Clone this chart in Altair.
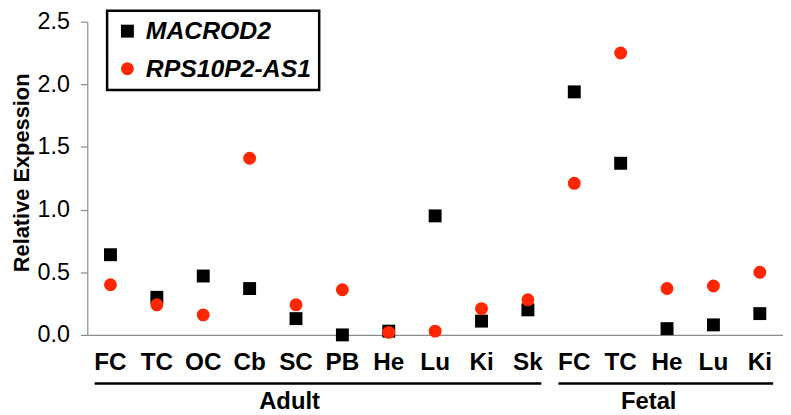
import altair as alt
import pandas as pd

# ---- data ----
keys = ["A_FC", "A_TC", "A_OC", "A_Cb", "A_SC", "A_PB", "A_He", "A_Lu", "A_Ki", "A_Sk",
        "F_FC", "F_TC", "F_He", "F_Lu", "F_Ki"]
tissues = ["FC", "TC", "OC", "Cb", "SC", "PB", "He", "Lu", "Ki", "Sk",
           "FC", "TC", "He", "Lu", "Ki"]
genes = ["MACROD2", "RPS10P2-AS1"]
macrod2 = [0.64, 0.30, 0.47, 0.37, 0.13, 0.00, 0.03, 0.95, 0.11, 0.20,
           1.94, 1.37, 0.05, 0.08, 0.17]
rps10p2 = [0.40, 0.24, 0.16, 1.41, 0.24, 0.36, 0.02, 0.03, 0.21, 0.28,
           1.21, 2.25, 0.37, 0.39, 0.50]
group_names = ["Adult", "Fetal"]
group_first = ["A_FC", "F_FC"]
group_last = ["A_Sk", "F_Ki"]
group_label_anchor = ["A_SC", "F_He"]
y_ticks = [0.0, 0.5, 1.0, 1.5, 2.0, 2.5]

FONT = "Liberation Sans"
GRAY = "#8c8c8c"
RED = "#FF2600"

rows = []
for k, t, v in zip(keys, tissues, macrod2):
    rows.append({"key": k, "tissue": t, "gene": genes[0], "value": v})
for k, t, v in zip(keys, tissues, rps10p2):
    rows.append({"key": k, "tissue": t, "gene": genes[1], "value": v})
df = pd.DataFrame(rows)

groups = pd.DataFrame({"name": group_names, "first": group_first,
                       "last": group_last, "anchor": group_label_anchor})

xscale = alt.Scale(domain=keys)
xaxis = alt.Axis(title=None, labelExpr="substring(datum.value, 2)", labelAngle=0,
                 labelFontSize=24.5, labelFontWeight="bold", labelColor="black",
                 labelFont=FONT, ticks=False, tickSize=0, labelPadding=16,
                 domainColor=GRAY, domainWidth=1.2, grid=False)

points = alt.Chart(df).mark_point(filled=True, size=170, opacity=1, strokeWidth=0).encode(
    x=alt.X("key:N", scale=xscale, axis=xaxis),
    y=alt.Y("value:Q", scale=alt.Scale(domain=[0, 2.5], nice=False, zero=True),
            axis=alt.Axis(values=y_ticks, format=".1f", title="Relative Expession",
                          grid=False, domainColor=GRAY, domainWidth=1.2,
                          tickColor=GRAY, tickSize=7, tickWidth=1.2,
                          labelFontSize=23.5, labelFont=FONT, labelColor="black",
                          labelPadding=11,
                          titleFontSize=22, titleFontWeight="bold", titleFont=FONT,
                          titleColor="black", titleAngle=270, titleX=-76, titleY=152,
                          titleBaseline="top", titleAlign="center")),
    color=alt.Color("gene:N", scale=alt.Scale(domain=genes, range=["black", RED]),
                    legend=alt.Legend(title=None, orient="none", legendX=20, legendY=-11,
                                      strokeColor="black",
                                      fillColor="white", padding=8, rowPadding=12,
                                      labelFontSize=25, labelFontWeight="bold",
                                      labelFontStyle="italic", labelFont=FONT,
                                      labelColor="black", labelOffset=6,
                                      symbolSize=170, symbolStrokeWidth=0,
                                      labelLimit=400)),
    shape=alt.Shape("gene:N", scale=alt.Scale(domain=genes, range=["square", "circle"])),
    order=alt.Order("gene:N"),
)

lines = alt.Chart(groups).mark_rule(color="black", strokeWidth=2.5,
                                    xOffset=-16, x2Offset=13.5).encode(
    x=alt.X("first:N", scale=xscale, axis=xaxis),
    x2="last:N",
    y=alt.value(365),
)

label_adult = alt.Chart(groups).transform_filter(alt.datum.name == "Adult").mark_text(
    fontSize=24, fontWeight="bold", font=FONT, color="black", baseline="alphabetic",
    align="center", dx=-6.5).encode(
    x=alt.X("anchor:N", scale=xscale, axis=xaxis),
    y=alt.value(391),
    text="name:N",
)
label_fetal = alt.Chart(groups).transform_filter(alt.datum.name == "Fetal").mark_text(
    fontSize=24, fontWeight="bold", font=FONT, color="black", baseline="alphabetic",
    align="center", dx=-18.5).encode(
    x=alt.X("anchor:N", scale=xscale, axis=xaxis),
    y=alt.value(391),
    text="name:N",
)

chart = alt.layer(points, lines, label_adult, label_fetal).properties(
    width=702, height=316,
    autosize=alt.AutoSizeParams(type="none"),
    padding={"left": 80, "top": 12, "right": 0, "bottom": 82},
).configure_view(stroke=None).configure_legend(strokeWidth=2.5)

chart.save("out.html", embed_options={"renderer": "svg", "actions": False})
